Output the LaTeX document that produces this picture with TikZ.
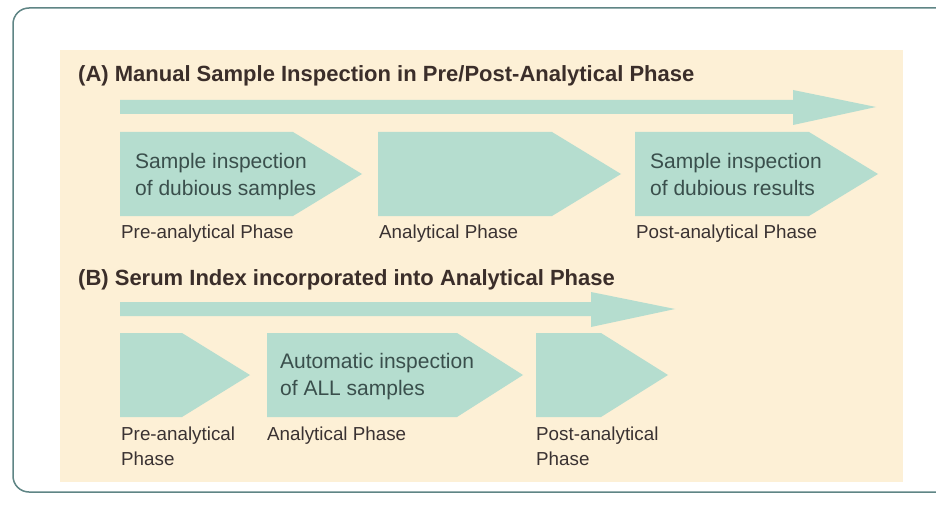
\documentclass[tikz,border=0pt]{standalone}
\usepackage{fontspec}
\setmainfont{Liberation Sans}
\definecolor{chev}{HTML}{B5DDCF}
\definecolor{beige}{HTML}{FDF0D6}
\definecolor{frame}{HTML}{5F8585}
\definecolor{intext}{HTML}{3A4F4C}
\definecolor{labtext}{HTML}{3A3232}
\definecolor{titletext}{HTML}{3B2E2A}
\tikzset{
  chevshape/.style={fill=chev, draw=none},
  titlelbl/.style={anchor=base west, inner sep=0pt, text=titletext, font=\fontsize{22}{24}\selectfont\bfseries},
  inlbl/.style={anchor=base west, inner sep=0pt, text=intext, font=\fontsize{21}{26.5}\selectfont, align=left},
  phaselbl/.style={anchor=base west, inner sep=0pt, text=labtext, font=\fontsize{18.8}{25}\selectfont, align=left},
}
\begin{document}
\begin{tikzpicture}[x=1pt,y=-1pt]
\useasboundingbox (0,0) rectangle (936,513);
\clip (0,0) rectangle (936,513);
\fill[white] (0,0) rectangle (936,513);
% outer frame
\draw[frame, line width=1.5pt, rounded corners=16pt] (13,8) rectangle (960,492);
% beige panel
\fill[beige] (60,50) rectangle (903,482);

% ---- Panel A ----
\node[titlelbl] (tA) at (78,82) {(A) Manual Sample Inspection in Pre/Post-Analytical Phase};
\fill[chevshape] (120,100) -- (793,100) -- (793,90) -- (876,107) -- (793,125) -- (793,114) -- (120,114) -- cycle;
\fill[chevshape] (120,132) -- (293,132) -- (362,174) -- (293,216) -- (120,216) -- cycle;
\fill[chevshape] (378,132) -- (552,132) -- (621,174) -- (552,216) -- (378,216) -- cycle;
\fill[chevshape] (635,132) -- (809,132) -- (878,174) -- (809,216) -- (635,216) -- cycle;
\node[inlbl] (a1) at (135,195) {Sample inspection\\of dubious samples};
\node[inlbl] (a3) at (650,195) {Sample inspection\\of dubious results};
\node[phaselbl] (pa1) at (121,238) {Pre-analytical Phase};
\node[phaselbl] (pa2) at (379,238) {Analytical Phase};
\node[phaselbl] (pa3) at (636,238) {Post-analytical Phase};

% ---- Panel B ----
\node[titlelbl] (tB) at (78,285) {(B) Serum Index incorporated into Analytical Phase};
\fill[chevshape] (120,302) -- (591,302) -- (591,292) -- (675,309) -- (591,327) -- (591,316) -- (120,316) -- cycle;
\fill[chevshape] (120,333) -- (182,333) -- (250,375) -- (182,417) -- (120,417) -- cycle;
\fill[chevshape] (267,333) -- (457,333) -- (523,375) -- (457,417) -- (267,417) -- cycle;
\fill[chevshape] (536,333) -- (601,333) -- (668,375) -- (601,417) -- (536,417) -- cycle;
\node[inlbl] (b2) at (280,395) {Automatic inspection\\of ALL samples};
\node[phaselbl] (pb1) at (121,465) {Pre-analytical\\Phase};
\node[phaselbl] (pb2) at (267,440) {Analytical Phase};
\node[phaselbl] (pb3) at (536,465) {Post-analytical\\Phase};
\end{tikzpicture}
\end{document}
